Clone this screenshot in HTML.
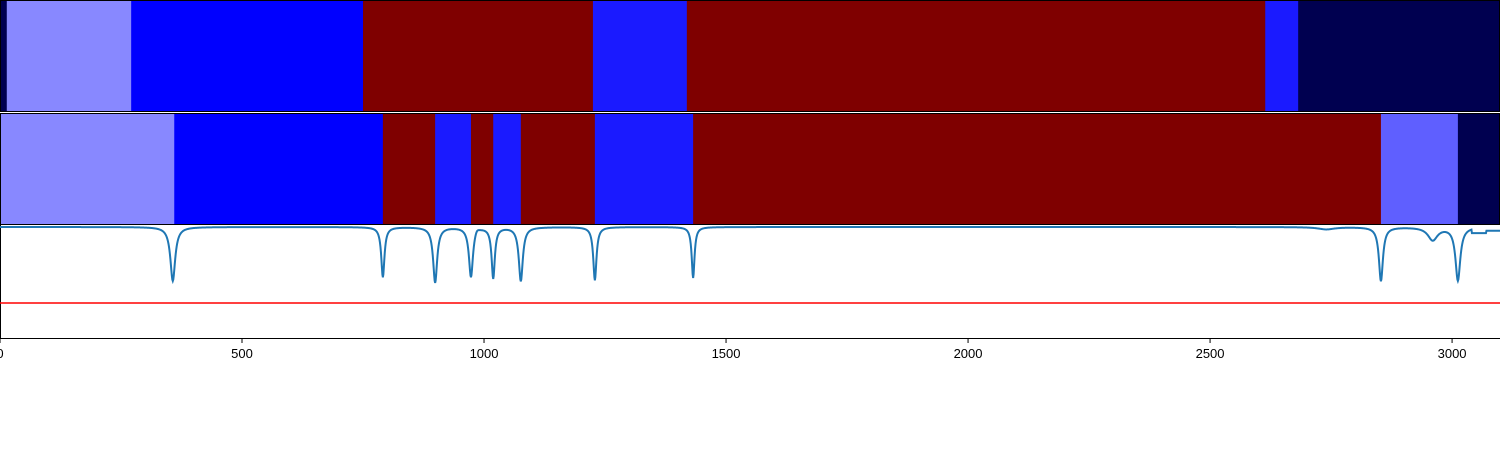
<!DOCTYPE html>
<html><head><meta charset="utf-8"><style>
html,body{margin:0;padding:0;background:#fff;width:1500px;height:450px;overflow:hidden}
svg{display:block;font-family:"Liberation Sans",sans-serif}
</style></head><body>
<svg id="chart" width="1500" height="450" xmlns="http://www.w3.org/2000/svg"></svg>
<script>
const topStarts=[0,14,271,750,1225,1419,2614,2682];
const topEnds=[14,271,750,1225,1419,2614,2682,3099];
const topColors=['#000050','#8888ff','#0000ff','#7f0000','#1a1aff','#7f0000','#1a1aff','#000050'];
const midStarts=[0,360,791,899,973,1019,1076,1229,1432,2853,3012];
const midEnds=[360,791,899,973,1019,1076,1229,1432,2853,3012,3099];
const midColors=['#8888ff','#0000ff','#7f0000','#1a1aff','#7f0000','#1a1aff','#7f0000','#1a1aff','#7f0000','#5f5fff','#000050'];
const dipCenters=[357,791,899,973,1019,1076,1229,1432,2853,3012,2960,2740,985];
const dipDepths=[0.71,0.66,0.73,0.66,0.67,0.71,0.70,0.67,0.71,0.70,0.17,0.03,-0.05];
const dipWidths=[6,4,5,5,4,5,4,3.5,5,6,12,20,6];
const redLevel=[0];
const xTicks=[0,500,1000,1500,2000,2500,3000];
const xMax=3099;
const NS='http://www.w3.org/2000/svg';
const svg=document.getElementById('chart');
const X=v=>v/xMax*1500;
const Y=v=>303-v*76;
function mk(t,a){const e=document.createElementNS(NS,t);for(const k in a)e.setAttribute(k,a[k]);svg.appendChild(e);return e;}
function band(starts,ends,colors,y0,h,name){
 for(let i=0;i<starts.length;i++){
  const r=mk('rect',{x:X(starts[i]),y:y0,width:X(ends[i])-X(starts[i])+0.5,height:h,fill:colors[i]});
  
  
 }
 const f=mk('rect',{x:0.5,y:y0+0.5,width:1499,height:h-1,fill:'none',stroke:'#000','stroke-width':1});
 
 
}
band(topStarts,topEnds,topColors,0,112,'top-band');
band(midStarts,midEnds,midColors,113,112,'middle-band');
const bf=mk('path',{d:'M0.5 225 V338.5 H1500',fill:'none',stroke:'#000','stroke-width':1});


const rl=mk('line',{x1:0,x2:1500,y1:Y(redLevel[0]),y2:Y(redLevel[0]),stroke:'#ff0000','stroke-width':1.5});


let d='';
for(let x=0;x<=xMax;x+=1){
 let v=1;
 for(let i=0;i<dipCenters.length;i++){const u=(x-dipCenters[i])/dipWidths[i];v-=dipDepths[i]/(1+u*u);}
 if(x>3040)v=0.92+(x>3070?0.03:0);
 d+=(x?'L':'M')+X(x).toFixed(2)+' '+Math.min(Y(v),340).toFixed(2);
}
const ln=mk('path',{d:d,fill:'none',stroke:'#1f77b4','stroke-width':2});


xTicks.forEach(t=>{
 const tk=mk('line',{x1:X(t),x2:X(t),y1:338,y2:343,stroke:'#000','stroke-width':1});
 
 
 const tx=mk('text',{x:X(t),y:358,'text-anchor':'middle','font-size':13,fill:'#000'});
 tx.textContent=t;
 
 
});
</script>
</body></html>
